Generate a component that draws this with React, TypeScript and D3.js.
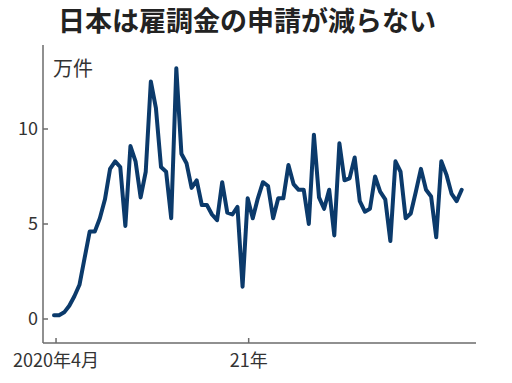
import React from "react";
import * as d3 from "d3";

const title = "日本は雇調金の申請が減らない";
const unitLabel = "万件";

// weekly applications (万件)
const values: number[] = [
  0.2, 0.2, 0.35, 0.7, 1.2, 1.8, 3.2, 4.6, 4.6, 5.3,
  6.3, 7.9, 8.3, 8.0, 4.9, 9.1, 8.3, 6.4, 7.75, 12.5,
  11.1, 8.0, 7.75, 5.3, 13.2, 8.7, 8.2, 6.9, 7.3, 6.0,
  6.0, 5.5, 5.2, 7.2, 5.6, 5.5, 5.9, 1.7, 6.35, 5.3,
  6.35, 7.2, 7.0, 5.3, 6.35, 6.35, 8.1, 7.1, 6.8, 6.8,
  5.0, 9.7, 6.4, 5.8, 6.8, 4.4, 9.25, 7.3, 7.4, 8.5,
  6.2, 5.65, 5.8, 7.5, 6.7, 6.3, 4.1, 8.3, 7.75, 5.3,
  5.55, 6.7, 7.9, 6.8, 6.45, 4.3, 8.3, 7.6, 6.6, 6.2,
  6.8,
];

const yTicks = [0, 5, 10];
const xTickPositions = [0.4, 38.2]; // positions in weeks from first point
const xTickLabels = ["2020年4月", "21年"];

const W = 512;
const H = 383;

export default function App() {
  const x = d3.scaleLinear().domain([0, values.length - 1]).range([54, 461.7]);
  const y = d3.scaleLinear().domain([0, 10]).range([319, 129]);

  const axisLeft = 43;
  const axisBottom = 343;
  const axisRight = 476;
  const axisTop = 45;

  const line = d3
    .line<number>()
    .x((_, i) => x(i))
    .y((d) => y(d));

  const font = "'Noto Sans CJK JP', 'Noto Sans', sans-serif";
  const axisColor = "#6b6b6b";

  return (
    <svg
      width={W}
      height={H}
      viewBox={`0 0 ${W} ${H}`}
      style={{ position: "absolute", left: 0, top: 0, background: "#fff" }}
    >
      <rect x={0} y={0} width={W} height={H} fill="#fff" />
      <text
        x={58}
        y={31}
        fontFamily={font}
        fontSize={27}
        fontWeight={700}
        fill="#222"
      >
        {title}
      </text>

      {/* axes */}
      <line x1={axisLeft} y1={axisTop} x2={axisLeft} y2={axisBottom} stroke={axisColor} strokeWidth={1.5} />
      <line x1={axisLeft} y1={axisBottom} x2={axisRight} y2={axisBottom} stroke={axisColor} strokeWidth={1.5} />

      <text x={53} y={76} fontFamily={font} fontSize={20} fill="#333">
        {unitLabel}
      </text>

      {yTicks.map((t) => (
        <g key={t}>
          <line x1={axisLeft} x2={axisLeft + 5} y1={y(t)} y2={y(t)} stroke={axisColor} strokeWidth={1.5} />
          <text
            x={38}
            y={y(t)}
            dy="0.36em"
            textAnchor="end"
            fontFamily={font}
            fontSize={18}
            fill="#333"
          >
            {t}
          </text>
        </g>
      ))}

      {xTickPositions.map((p, i) => (
        <g key={i}>
          <line x1={x(p)} x2={x(p)} y1={axisBottom} y2={axisBottom - 5} stroke={axisColor} strokeWidth={1.5} />
          <text
            x={x(p)}
            y={367}
            textAnchor="middle"
            fontFamily={font}
            fontSize={18}
            fill="#333"
          >
            {xTickLabels[i]}
          </text>
        </g>
      ))}

      <path
        d={line(values) || ""}
        fill="none"
        stroke="#0b3a6b"
        strokeWidth={4}
        strokeLinejoin="round"
        strokeLinecap="round"
      />
    </svg>
  );
}
